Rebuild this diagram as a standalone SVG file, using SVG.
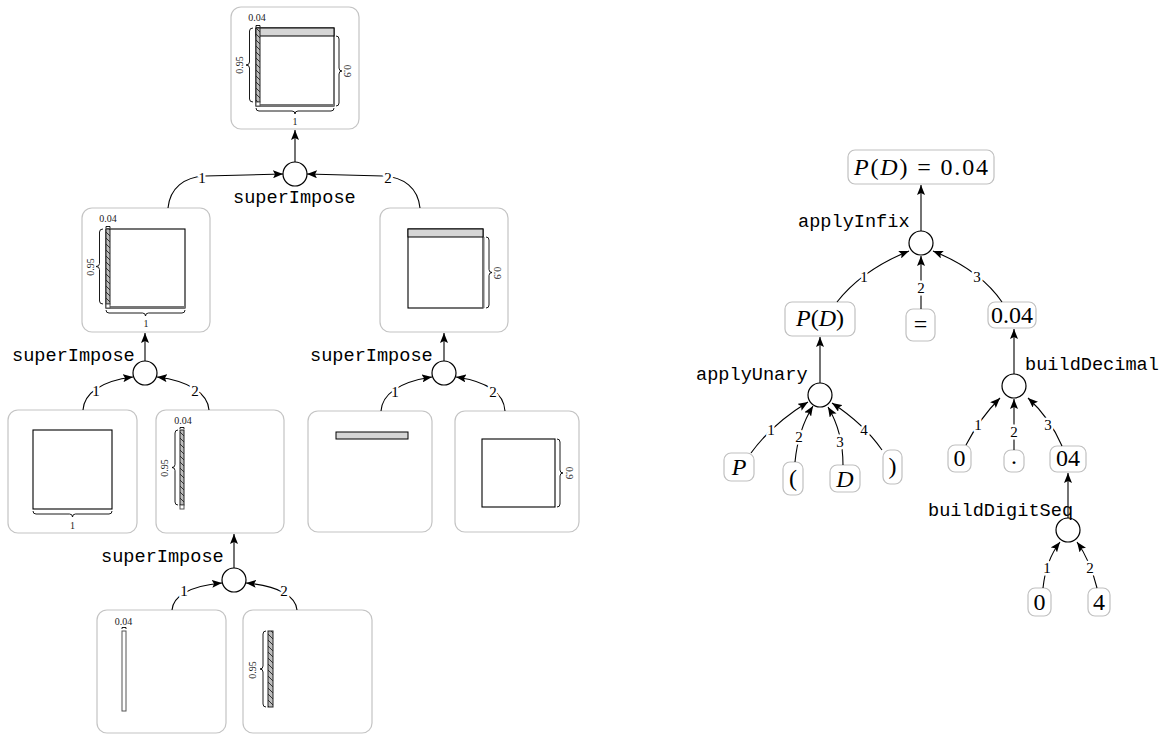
<svg xmlns="http://www.w3.org/2000/svg" width="1168" height="736" viewBox="0 0 1168 736">
<style>
.panel{fill:#fff;stroke:#c4c4c4;stroke-width:1.2}
.tnode{fill:#fff;stroke:#c0c0c0;stroke-width:1.2}
.op{fill:#fff;stroke:#000;stroke-width:1.2}
.edge{fill:none;stroke:#000;stroke-width:1.1}
.sq{fill:#fff;stroke:#000;stroke-width:1.1}
.gbar{fill:#d6d6d6;stroke:#000;stroke-width:1}
.hbar{fill:url(#hatch);stroke:#222;stroke-width:1}
.wbar{fill:#fff;stroke:#555;stroke-width:1}
.brace{fill:none;stroke:#000;stroke-width:0.9}
.gline{stroke:#777;stroke-width:2}
.dim{font-family:"Liberation Serif",serif;font-size:10px;fill:#222}
.mono{font-family:"Liberation Mono",monospace;font-size:18.6px;fill:#000}
.el{font-family:"Liberation Serif",serif;font-size:15px;fill:#000;text-anchor:middle;paint-order:stroke;stroke:#fff;stroke-width:5px;stroke-linejoin:round}
.math{font-family:"Liberation Serif",serif;font-size:24px;fill:#000;text-anchor:middle}
.it{font-style:italic}
</style>
<defs>
<pattern id="hatch" patternUnits="userSpaceOnUse" width="6" height="6">
<rect width="6" height="6" fill="#bdbdbd"/>
<path d="M0,0 L6,6 M-1,5 L1,7 M5,-1 L7,1" stroke="#222" stroke-width="0.9"/>
</pattern>
<marker id="ah" viewBox="0 0 10 8" refX="10" refY="4" markerWidth="10" markerHeight="8" markerUnits="userSpaceOnUse" orient="auto">
<path d="M0,0 L10,4 L0,8 L2,4 z" fill="#000"/>
</marker>
</defs>

<!-- LEFT: superImpose tree -->
<g id="box-top">
<rect class="panel" x="231" y="7" width="128" height="122" rx="10"/>
<rect class="sq" x="256" y="28" width="78" height="78"/>
<rect class="gbar" x="256" y="28" width="78" height="8"/>
<line class="gline" x1="260" y1="105" x2="334" y2="105"/>
<rect class="hbar" x="256" y="28" width="4" height="74"/>
<rect class="wbar" x="256" y="102" width="4" height="4"/>
<path class="brace" d="M253,28 Q249.5,28 249.5,31 L249.5,62 Q249.5,65 246,65 Q249.5,65 249.5,68 L249.5,99 Q249.5,102 253,102"/>
<path class="brace" d="M336,36 Q339,36 339,39 L339,68 Q339,71 342,71 Q339,71 339,74 L339,103 Q339,106 336,106"/>
<path class="brace" d="M256,108 Q256,111 259,111 L292,111 Q295,111 295,114 Q295,111 298,111 L331,111 Q334,111 334,108"/>
<path class="brace" d="M256,27 L256,25.5 L260,25.5 L260,27"/>
<text class="dim" x="257" y="21" text-anchor="middle">0.04</text>
<text class="dim" transform="translate(243,65) rotate(-90)" text-anchor="middle">0.95</text>
<text class="dim" transform="translate(344,71) rotate(90)" text-anchor="middle">0.9</text>
<text class="dim" x="295" y="125" text-anchor="middle">1</text>
</g>

<g id="op-top">
<circle class="op" cx="295" cy="174" r="12"/>
<text class="mono" x="233" y="203">superImpose</text>
</g>

<g id="box-A">
<rect class="panel" x="82" y="208" width="128" height="124" rx="10"/>
<rect class="sq" x="106" y="229" width="79" height="79"/>
<line class="gline" x1="110" y1="307" x2="185" y2="307"/>
<rect class="hbar" x="106" y="229" width="4" height="75"/>
<rect class="wbar" x="106" y="304" width="4" height="4"/>
<path class="brace" d="M103,229 Q99.5,229 99.5,232 L99.5,263.5 Q99.5,266.5 96,266.5 Q99.5,266.5 99.5,269.5 L99.5,301 Q99.5,304 103,304"/>
<path class="brace" d="M106,310 Q106,313 109,313 L142.5,313 Q145.5,313 145.5,316 Q145.5,313 148.5,313 L182,313 Q185,313 185,310"/>
<path class="brace" d="M106,228 L106,226.5 L110,226.5 L110,228"/>
<text class="dim" x="108" y="222" text-anchor="middle">0.04</text>
<text class="dim" transform="translate(94,267) rotate(-90)" text-anchor="middle">0.95</text>
<text class="dim" x="146" y="327" text-anchor="middle">1</text>
</g>

<g id="box-B">
<rect class="panel" x="380" y="208" width="128" height="124" rx="10"/>
<rect class="sq" x="408" y="229" width="75" height="79"/>
<line class="gline" x1="483.5" y1="237" x2="483.5" y2="308"/>
<rect class="gbar" x="408" y="229" width="75" height="8"/>
<path class="brace" d="M486,237 Q489,237 489,240 L489,269.5 Q489,272.5 492,272.5 Q489,272.5 489,275.5 L489,305 Q489,308 486,308"/>
<text class="dim" transform="translate(494,273) rotate(90)" text-anchor="middle">0.9</text>
</g>

<g id="op-A">
<circle class="op" cx="145" cy="373" r="12"/>
<text class="mono" x="12" y="361">superImpose</text>
</g>

<g id="op-B">
<circle class="op" cx="444" cy="373" r="12"/>
<text class="mono" x="310" y="361">superImpose</text>
</g>

<g id="box-C">
<rect class="panel" x="8" y="410" width="129" height="123" rx="10"/>
<rect class="sq" x="33" y="430" width="79" height="79"/>
<path class="brace" d="M33,511 Q33,514 36,514 L69.5,514 Q72.5,514 72.5,517 Q72.5,514 75.5,514 L109,514 Q112,514 112,511"/>
<text class="dim" x="72.5" y="529" text-anchor="middle">1</text>
</g>

<g id="box-D">
<rect class="panel" x="156" y="410" width="128" height="123" rx="10"/>
<rect class="hbar" x="180" y="430" width="4" height="75"/>
<rect class="wbar" x="180" y="505" width="4" height="4"/>
<path class="brace" d="M178,430 Q175,430 175,433 L175,464.5 Q175,467.5 172,467.5 Q175,467.5 175,470.5 L175,502 Q175,505 178,505"/>
<path class="brace" d="M180,429 L180,427.5 L184,427.5 L184,429"/>
<text class="dim" x="183" y="424" text-anchor="middle">0.04</text>
<text class="dim" transform="translate(168,468) rotate(-90)" text-anchor="middle">0.95</text>
</g>

<g id="box-E">
<rect class="panel" x="308" y="411" width="124" height="121" rx="10"/>
<rect class="gbar" x="336" y="432" width="72" height="7"/>
</g>

<g id="box-F">
<rect class="panel" x="455" y="411" width="124" height="121" rx="10"/>
<rect class="sq" x="482" y="439" width="73" height="68"/>
<path class="brace" d="M557,439 Q560,439 560,442 L560,470 Q560,473 563,473 Q560,473 560,476 L560,504 Q560,507 557,507"/>
<text class="dim" transform="translate(566,473) rotate(90)" text-anchor="middle">0.9</text>
</g>

<g id="op-D">
<circle class="op" cx="234" cy="580" r="12"/>
<text class="mono" x="101" y="562">superImpose</text>
</g>

<g id="box-G">
<rect class="panel" x="97" y="610" width="129" height="123" rx="10"/>
<rect class="wbar" x="122" y="631" width="4" height="80"/>
<path class="brace" d="M122,629 L122,627.5 L126,627.5 L126,629"/>
<text class="dim" x="123.5" y="625" text-anchor="middle">0.04</text>
</g>

<g id="box-H">
<rect class="panel" x="243" y="610" width="129" height="123" rx="10"/>
<rect class="hbar" x="268" y="631" width="5" height="76"/>
<path class="brace" d="M266,631 Q263,631 263,634 L263,666 Q263,669 260,669 Q263,669 263,672 L263,704 Q263,707 266,707"/>
<text class="dim" transform="translate(256,670) rotate(-90)" text-anchor="middle">0.95</text>
</g>

<!-- RIGHT: parse tree -->
<g id="n-root">
<rect class="tnode" x="848" y="150" width="146" height="34" rx="7"/>
<text class="math" x="921" y="175" textLength="134" lengthAdjust="spacing"><tspan class="it">P</tspan>(<tspan class="it">D</tspan>) = 0.04</text>
</g>
<g id="op-infix">
<circle class="op" cx="921" cy="243" r="12"/>
<text class="mono" x="798" y="227">applyInfix</text>
</g>
<g id="n-PD">
<rect class="tnode" x="785" y="302" width="70" height="34" rx="7"/>
<text class="math" x="820" y="326"><tspan class="it">P</tspan>(<tspan class="it">D</tspan>)</text>
</g>
<g id="n-eq">
<rect class="tnode" x="906" y="309" width="29" height="32" rx="7"/>
<text class="math" x="920.5" y="332">=</text>
</g>
<g id="n-004">
<rect class="tnode" x="988" y="302" width="48" height="26" rx="7"/>
<text class="math" x="1012" y="323">0.04</text>
</g>
<g id="op-unary">
<circle class="op" cx="820" cy="395" r="12"/>
<text class="mono" x="696" y="380">applyUnary</text>
</g>
<g id="n-P">
<rect class="tnode" x="724" y="453" width="30" height="28" rx="7"/>
<text class="math it" x="739" y="475">P</text>
</g>
<g id="n-lp">
<rect class="tnode" x="783" y="462" width="20" height="33" rx="7"/>
<text class="math" x="793" y="486">(</text>
</g>
<g id="n-D">
<rect class="tnode" x="830" y="465" width="30" height="27" rx="7"/>
<text class="math it" x="845" y="487">D</text>
</g>
<g id="n-rp">
<rect class="tnode" x="883" y="450" width="19" height="34" rx="7"/>
<text class="math" x="892.5" y="474">)</text>
</g>
<g id="op-decimal">
<circle class="op" cx="1014" cy="386" r="12"/>
<text class="mono" x="1025" y="370">buildDecimal</text>
</g>
<g id="n-0a">
<rect class="tnode" x="948" y="445" width="23" height="27" rx="7"/>
<text class="math" x="959.5" y="466">0</text>
</g>
<g id="n-dot">
<rect class="tnode" x="1004" y="450" width="20" height="22" rx="7"/>
<text class="math" x="1014" y="464">.</text>
</g>
<g id="n-04">
<rect class="tnode" x="1050" y="446" width="36" height="26" rx="7"/>
<text class="math" x="1068" y="466">04</text>
</g>
<g id="op-digitseq">
<circle class="op" cx="1068" cy="530" r="12"/>
<text class="mono" x="928" y="516">buildDigitSeq</text>
</g>
<g id="n-0b">
<rect class="tnode" x="1028" y="588" width="23" height="28" rx="7"/>
<text class="math" x="1039.5" y="610">0</text>
</g>
<g id="n-4">
<rect class="tnode" x="1088" y="588" width="22" height="28" rx="7"/>
<text class="math" x="1099" y="610">4</text>
</g>

<g id="connectors">
<!-- left tree -->
<path class="edge" marker-end="url(#ah)" d="M295,162 L295,130"/>
<path class="edge" marker-end="url(#ah)" d="M168,208 C170,188 184,177 205,176 L283,174"/>
<path class="edge" marker-end="url(#ah)" d="M420,208 C418,188 404,177 383,176 L307,174"/>
<text class="el" x="202" y="183">1</text>
<text class="el" x="388" y="183">2</text>

<path class="edge" marker-end="url(#ah)" d="M145,361 L145,333"/>
<path class="edge" marker-end="url(#ah)" d="M83,410 C84,394 100,381 133,377"/>
<path class="edge" marker-end="url(#ah)" d="M209,410 C208,394 190,381 157,377"/>
<text class="el" x="96" y="396">1</text>
<text class="el" x="195" y="396">2</text>

<path class="edge" marker-end="url(#ah)" d="M444,361 L444,333"/>
<path class="edge" marker-end="url(#ah)" d="M381,411 C382,395 398,382 432,377"/>
<path class="edge" marker-end="url(#ah)" d="M505,411 C504,395 490,382 456,377"/>
<text class="el" x="395" y="397">1</text>
<text class="el" x="493" y="397">2</text>

<path class="edge" marker-end="url(#ah)" d="M234,568 L234,534"/>
<path class="edge" marker-end="url(#ah)" d="M172,610 C173,597 188,586 222,583"/>
<path class="edge" marker-end="url(#ah)" d="M297,610 C296,597 280,586 246,583"/>
<text class="el" x="184" y="596">1</text>
<text class="el" x="284" y="596">2</text>

<!-- right tree -->
<path class="edge" marker-end="url(#ah)" d="M921,231 L921,185"/>
<path class="edge" marker-end="url(#ah)" d="M837,302 Q862,270 909,251"/>
<path class="edge" marker-end="url(#ah)" d="M921,309 L921,256"/>
<path class="edge" marker-end="url(#ah)" d="M1002,302 Q980,270 933,251"/>
<text class="el" x="864" y="282">1</text>
<text class="el" x="921" y="293">2</text>
<text class="el" x="977" y="282">3</text>

<path class="edge" marker-end="url(#ah)" d="M820,383 L820,337"/>
<path class="edge" marker-end="url(#ah)" d="M751,453 Q772,424 808,402"/>
<path class="edge" marker-end="url(#ah)" d="M795,462 Q798,430 813,406"/>
<path class="edge" marker-end="url(#ah)" d="M843,465 Q843,432 828,407"/>
<path class="edge" marker-end="url(#ah)" d="M882,450 Q864,424 832,403"/>
<text class="el" x="771" y="435">1</text>
<text class="el" x="799" y="442">2</text>
<text class="el" x="840" y="447">3</text>
<text class="el" x="864" y="435">4</text>

<path class="edge" marker-end="url(#ah)" d="M1014,374 L1014,329"/>
<path class="edge" marker-end="url(#ah)" d="M966,445 Q980,418 1000,398"/>
<path class="edge" marker-end="url(#ah)" d="M1014,450 L1014,399"/>
<path class="edge" marker-end="url(#ah)" d="M1062,446 Q1050,418 1028,398"/>
<text class="el" x="978" y="430">1</text>
<text class="el" x="1014" y="437">2</text>
<text class="el" x="1048" y="430">3</text>

<path class="edge" marker-end="url(#ah)" d="M1068,518 L1068,473"/>
<path class="edge" marker-end="url(#ah)" d="M1043,588 Q1046,560 1060,542"/>
<path class="edge" marker-end="url(#ah)" d="M1097,588 Q1090,560 1077,542"/>
<text class="el" x="1047" y="573">1</text>
<text class="el" x="1090" y="573">2</text>
</g>
</svg>
